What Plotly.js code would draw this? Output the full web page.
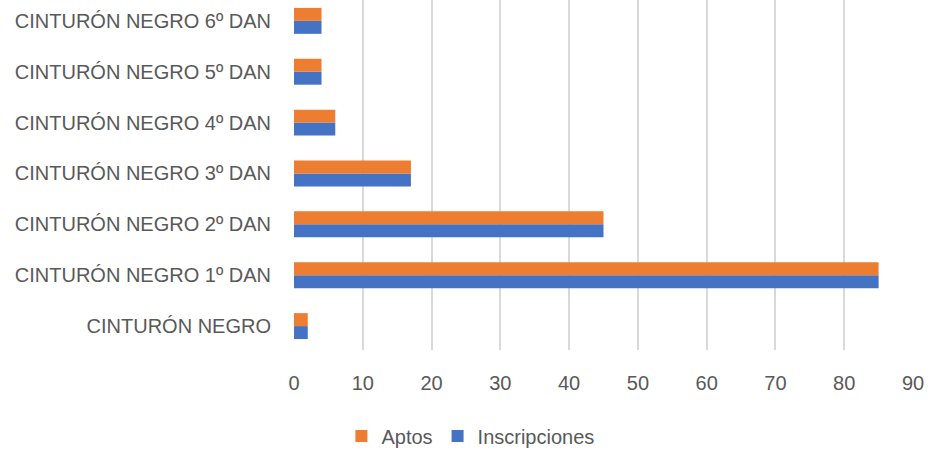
<!DOCTYPE html>
<html><head><meta charset="utf-8">
<script src="https://cdn.plot.ly/plotly-3.0.1.min.js"></script>
<style>body{margin:0;background:#fff}#c{width:930px;height:450px}</style>
</head><body><div id="c"></div>
<script>
const categories = ["CINTURÓN NEGRO","CINTURÓN NEGRO 1º DAN","CINTURÓN NEGRO 2º DAN","CINTURÓN NEGRO 3º DAN","CINTURÓN NEGRO 4º DAN","CINTURÓN NEGRO 5º DAN","CINTURÓN NEGRO 6º DAN"];
const inscripciones = [2,85,45,17,6,4,4];
const aptos = [2,85,45,17,6,4,4];
const xTicks = [0,10,20,30,40,50,60,70,80,90];

const font = {family:"Liberation Sans, Arial, sans-serif", size:20, color:"#595959"};
const data = [
  {type:'bar', orientation:'h', name:'Inscripciones', y:categories, x:inscripciones, marker:{color:'#4472C4'}},
  {type:'bar', orientation:'h', name:'Aptos', y:categories, x:aptos, marker:{color:'#ED7D31'}}
];
const layout = {
  width:930, height:450,
  margin:{l:293.5, r:16.5, t:0, b:100},
  paper_bgcolor:'#fff', plot_bgcolor:'#fff',
  font:font,
  barmode:'group', bargap:0.49, bargroupgap:0,
  xaxis:{range:[0,90], tickvals:xTicks, showgrid:true, gridcolor:'#d9d9d9', gridwidth:2,
         zeroline:false, showline:false, ticks:'', ticklabelstandoff:19, tickfont:font, automargin:false},
  yaxis:{type:'category', range:[-0.47,6.41], showgrid:false, zeroline:false, showline:false,
         ticks:'', ticklabelstandoff:22, tickfont:font, automargin:false},
  showlegend:true,
  legend:{orientation:'h', x:0.285, xanchor:'center', yref:'container', y:0.031, yanchor:'middle', traceorder:'reversed', font:font, itemwidth:30},
};
Plotly.newPlot('c', data, layout, {displayModeBar:false, staticPlot:true});
</script></body></html>
